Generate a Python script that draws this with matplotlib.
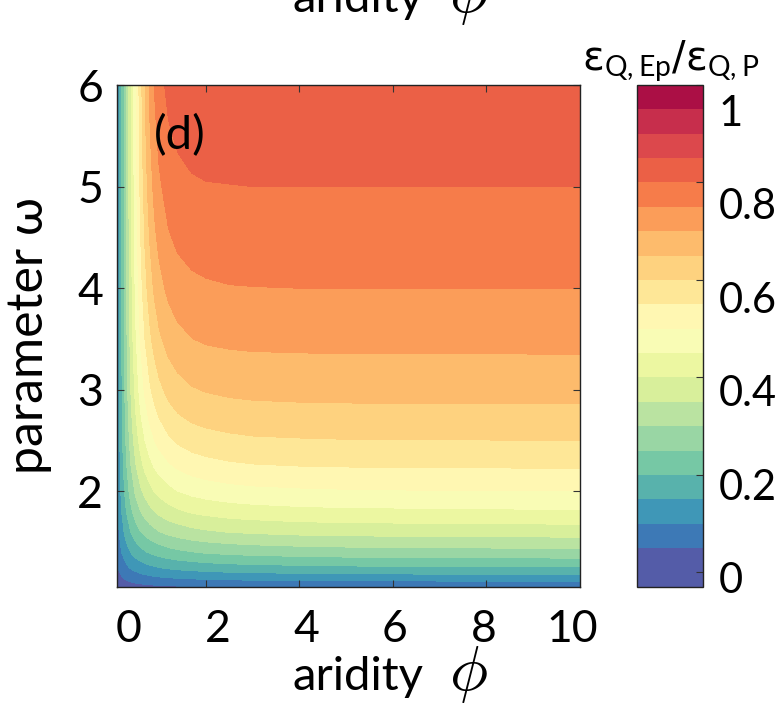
import numpy as np
import matplotlib
matplotlib.use("Agg")
import matplotlib.pyplot as plt
from matplotlib.colors import ListedColormap, BoundaryNorm

plt.rcParams['font.family'] = ['Lato', 'DejaVu Sans']

# aridity phi (x) and parameter omega (y) grid
phi = [0, 0.1, 0.2, 0.3, 0.4, 0.5, 0.6, 0.7, 0.8, 0.9, 1.0, 1.2, 1.4, 1.7,
       2, 2.5, 3, 4, 5, 6.5, 8, 10]
omega = [1.06, 1.15, 1.25, 1.4, 1.6, 1.8, 2, 2.25, 2.5, 2.75, 3, 3.5, 4,
         4.5, 5, 5.5, 6]

# elasticity ratio eps_Q,Ep / eps_Q,P ; one row per phi value, columns follow omega
ratio_by_phi = [
    [.000, .000, .000, .000, .000, .000, .000, .000, .000, .000, .000, .000, .000, .000, .000, .000, .000],
    [.013, .030, .045, .061, .076, .085, .090, .095, .097, .098, .099, .100, .100, .100, .100, .100, .100],
    [.020, .047, .071, .101, .129, .150, .164, .176, .184, .190, .193, .197, .199, .199, .200, .200, .200],
    [.025, .058, .090, .130, .170, .200, .223, .244, .259, .270, .278, .288, .294, .297, .298, .299, .299],
    [.029, .067, .105, .152, .202, .240, .271, .300, .323, .340, .353, .371, .382, .389, .393, .396, .397],
    [.032, .074, .116, .169, .227, .272, .309, .346, .375, .397, .416, .443, .461, .473, .481, .487, .491],
    [.034, .080, .125, .183, .247, .298, .340, .382, .417, .445, .468, .503, .528, .546, .559, .569, .577],
    [.036, .085, .133, .195, .263, .318, .364, .412, .450, .482, .509, .551, .583, .606, .625, .639, .650],
    [.037, .088, .139, .204, .276, .335, .384, .435, .477, .512, .542, .589, .625, .653, .676, .694, .709],
    [.039, .092, .144, .212, .287, .349, .401, .454, .499, .536, .567, .619, .658, .689, .714, .735, .752],
    [.040, .095, .149, .219, .297, .361, .414, .470, .516, .554, .587, .641, .682, .714, .741, .763, .782],
    [.042, .099, .156, .230, .312, .379, .434, .492, .540, .581, .615, .670, .712, .745, .772, .794, .813],
    [.044, .103, .162, .238, .322, .391, .449, .508, .557, .597, .632, .686, .728, .760, .786, .807, .825],
    [.045, .107, .168, .247, .334, .405, .463, .523, .572, .612, .646, .699, .739, .770, .795, .814, .831],
    [.047, .110, .173, .254, .342, .413, .472, .532, .580, .620, .653, .706, .744, .774, .798, .817, .832],
    [.048, .114, .179, .261, .351, .423, .481, .541, .588, .627, .660, .710, .748, .776, .799, .818, .833],
    [.050, .117, .182, .266, .356, .428, .487, .546, .593, .631, .663, .712, .749, .777, .800, .818, .833],
    [.051, .120, .187, .272, .363, .435, .492, .550, .596, .634, .665, .713, .750, .778, .800, .818, .833],
    [.052, .122, .190, .276, .366, .438, .495, .552, .598, .635, .666, .714, .750, .778, .800, .818, .833],
    [.053, .124, .193, .279, .369, .440, .497, .554, .599, .636, .666, .714, .750, .778, .800, .818, .833],
    [.054, .126, .194, .280, .371, .442, .498, .554, .599, .636, .666, .714, .750, .778, .800, .818, .833],
    [.054, .127, .196, .282, .372, .443, .499, .555, .600, .636, .667, .714, .750, .778, .800, .818, .833],
]

levels = [-0.03] + [round(0.05 * k, 2) for k in range(1, 21)]   # -0.03, 0.05 ... 1.0
x_ticks = [2, 4, 6, 8]
x_labelvals = [0, 2, 4, 6, 8, 10]
x_ticklabels = ['0', '2', '4', '6', '8', '10']
y_ticks = [2, 3, 4, 5, 6]
cb_ticks = [0, 0.2, 0.4, 0.6, 0.8, 1.0]
cb_ticklabels = ['0', '0.2', '0.4', '0.6', '0.8', '1']

W, H = 781, 719
fig = plt.figure(figsize=(W / 100, H / 100), dpi=100)

def box(x0, y0, x1, y1):
    return [x0 / W, 1 - y1 / H, (x1 - x0) / W, (y1 - y0) / H]

ax = fig.add_axes(box(117, 85, 580, 587))
cax = fig.add_axes(box(637, 85, 703, 587))

nb = len(levels) - 1
base = plt.get_cmap('Spectral_r')
cmap = ListedColormap([base((k + 0.5) / nb) for k in range(nb)])
norm = BoundaryNorm(levels, nb)

Z = np.array(ratio_by_phi).T
cs = ax.contourf(phi, omega, Z, levels=levels, cmap=cmap, norm=norm)
ax.set_xlim(0.1, 10)
ax.set_ylim(1.06, 6)
ax.set_xticks(x_ticks)
ax.set_yticks(y_ticks)
ax.tick_params(direction='in', top=True, right=True, length=5, width=0.8,
               labelsize=32, color='#333333', pad=10, labelbottom=False)
for s in ax.spines.values():
    s.set_linewidth(1.0)
    s.set_color('#222222')

# x tick labels sit slightly inside the tick positions, as in the reference
secx = ax.secondary_xaxis('bottom', functions=(lambda v: 1.0558 * np.asarray(v) - 0.3765,
                                               lambda L: (np.asarray(L) + 0.3765) / 1.0558))
secx.set_xticks(x_labelvals, x_ticklabels)
secx.minorticks_off()
secx.tick_params(which='both', length=0, width=0, labelsize=32, pad=16)
secx.spines['bottom'].set_visible(False)

ax.set_ylabel('parameter ω', fontsize=36, labelpad=6)
ax.yaxis.set_label_coords(-0.14, 0.5)
ax.text(0.08, 0.9, '(d)', transform=ax.transAxes, fontsize=34,
        ha='left', va='center')


def caption(y_base):
    fig.text(292 / W, 1 - y_base / H, 'aridity', fontsize=34,
             ha='left', va='baseline')
    fig.text(468 / W, 1 - y_base / H, r'$\phi$', fontsize=46,
             math_fontfamily='cm', ha='center', va='baseline')


caption(690)      # x-axis label
caption(12)       # caption of the panel above, cut by the top edge

cb = fig.colorbar(cs, cax=cax, ticks=cb_ticks, spacing='proportional')
cb.minorticks_off()
cb.ax.tick_params(direction='in', length=5, width=0.8, color='#333333',
                  labelright=False)
cb.outline.set_linewidth(1.0)
cb.outline.set_edgecolor('#222222')

# colour-bar labels, placed slightly below their tick marks as in the reference
secc = cax.secondary_yaxis('right', functions=(lambda v: 1.0415 * np.asarray(v) + 0.012,
                                               lambda L: (np.asarray(L) - 0.012) / 1.0415))
secc.set_yticks(cb_ticks, cb_ticklabels)
secc.minorticks_off()
secc.tick_params(which='both', length=0, width=0, labelsize=30, pad=11)
secc.spines['right'].set_visible(False)

fig.text(671 / W, 1 - 70 / H,
         r'$\mathrm{\varepsilon}_{\mathregular{Q,Ep}}/\mathrm{\varepsilon}_{\mathregular{Q,P}}$',
         fontsize=29, ha='center', va='baseline')

fig.savefig('out.png', dpi=100)
